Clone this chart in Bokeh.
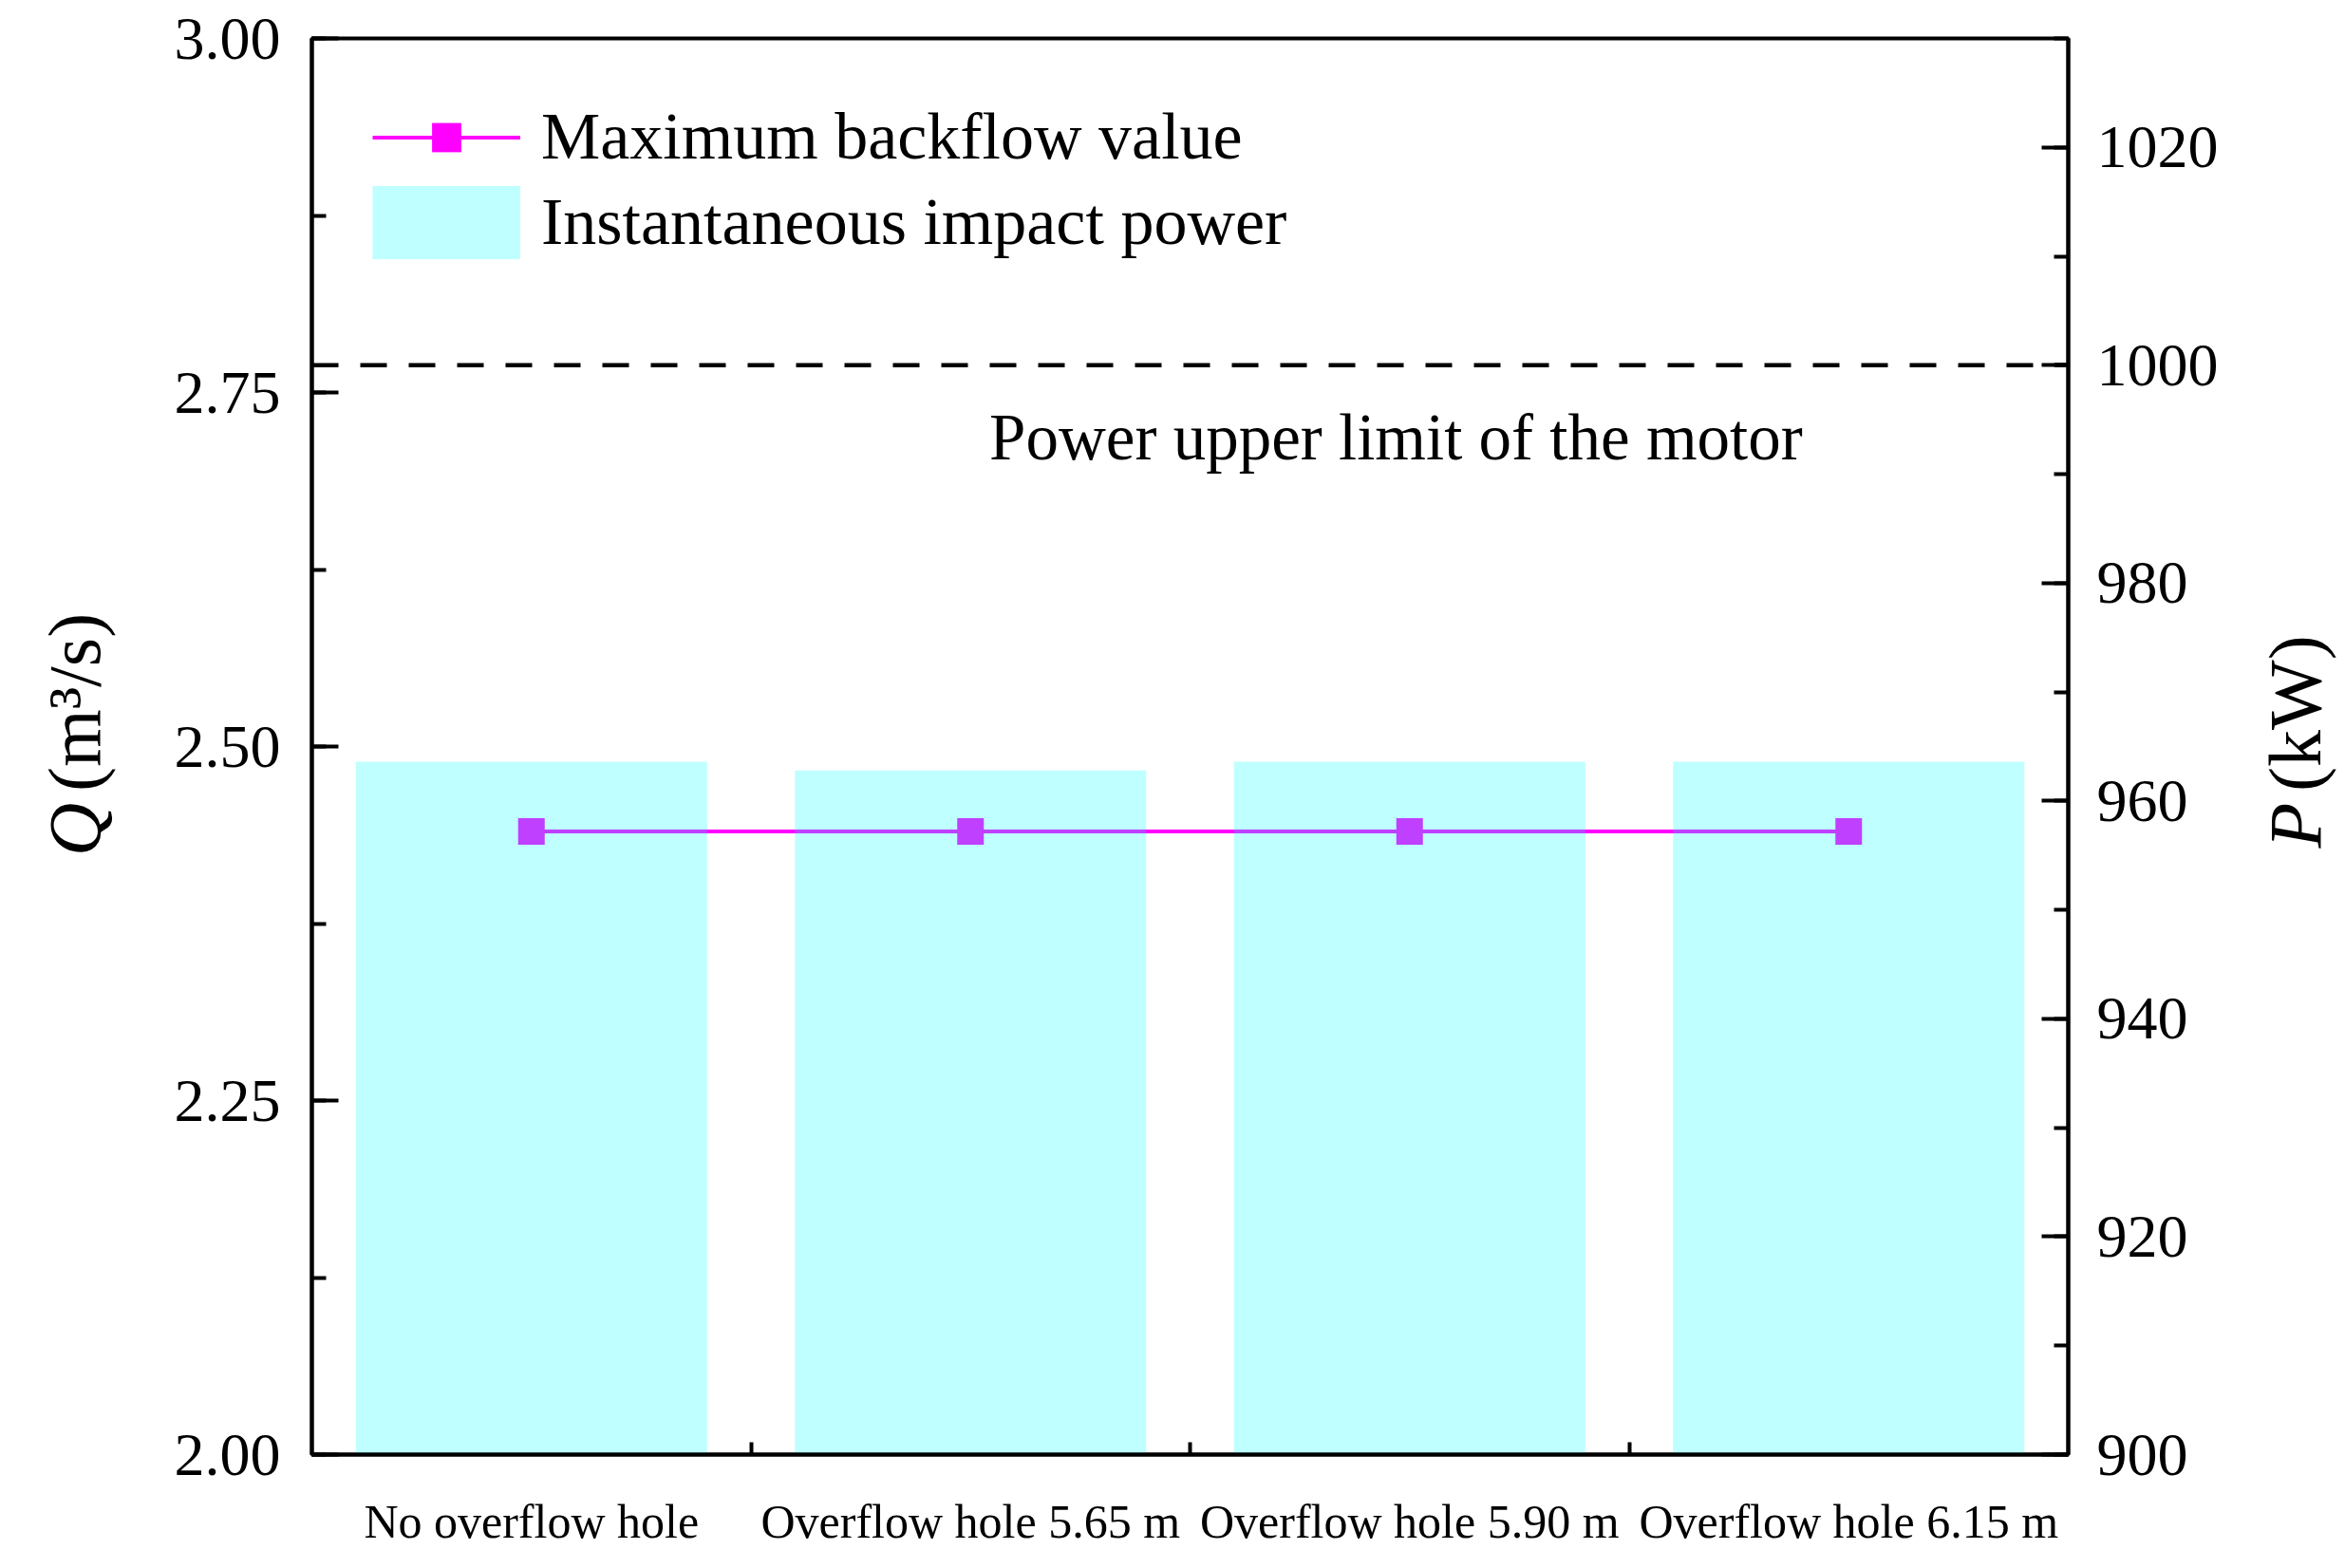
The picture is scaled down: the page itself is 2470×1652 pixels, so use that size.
from bokeh.plotting import figure
from bokeh.layouts import row
from bokeh.models import (Range1d, LinearAxis, SingleIntervalTicker, FixedTicker,
                          NumeralTickFormatter, Span, Label, Legend, LegendItem)
from bokeh.core.properties import value
from bokeh.embed import file_html
from bokeh.resources import INLINE

# ---------------- data ----------------
categories = ["No overflow hole", "Overflow hole 5.65 m", "Overflow hole 5.90 m", "Overflow hole 6.15 m"]
positions = [1, 2, 3, 4]
backflow_q = [2.44, 2.44, 2.44, 2.44]          # m^3/s, left axis
impact_power = [963.6, 962.8, 963.6, 963.6]     # kW, right axis
power_limit = 1000                              # kW
q_ticks_interval = 0.25
p_ticks_interval = 20

FONT = "Liberation Serif"
H = 1636
LW, MW, RW = 170, 2170, 130
SHIFT = 38   # empirical correction of rotated-text placement


def side_fig(width):
    f = figure(width=width, height=H, output_backend="svg", toolbar_location=None,
               x_range=Range1d(0, width), y_range=Range1d(0, H),
               x_axis_location=None, y_axis_location=None,
               min_border=0, min_border_left=0, min_border_right=0,
               min_border_top=0, min_border_bottom=0)
    f.grid.visible = False
    f.outline_line_color = None
    f.background_fill_color = "white"
    f.border_fill_color = "white"
    return f


title_kw = dict(angle=1.5707963, text_font=value(FONT), text_font_size="78px",
                text_baseline="middle", text_color="black")

# left title: Q (m³/s)
lf = side_fig(LW)
lf.text(x=[78], y=[H - 845 - SHIFT], text=["Q"], text_align="right", text_font_style="italic", **title_kw)
lf.text(x=[78], y=[H - 832 - SHIFT], text=["(m³/s)"], text_align="left", **title_kw)

# right title: P (kW)
rf = side_fig(RW)
rf.text(x=[77], y=[H - 845 - SHIFT], text=["P"], text_align="right", text_font_style="italic", **title_kw)
rf.text(x=[77], y=[H - 832 - SHIFT], text=["(kW)"], text_align="left", **title_kw)

# ---------------- main plot ----------------
p = figure(width=MW, height=H, output_backend="svg", toolbar_location=None,
           x_range=Range1d(0.5, 4.5), y_range=Range1d(2.0, 3.0),
           min_border_left=328 - LW, min_border_right=LW + MW - 2178,
           min_border_top=40, min_border_bottom=H - 40 - 1492)
p.extra_y_ranges = {"P": Range1d(900, 1030)}
p.xgrid.visible = False
p.ygrid.visible = False
p.outline_line_color = "black"
p.outline_line_width = 4
p.background_fill_color = "white"
p.border_fill_color = "white"

# line + markers (drawn below the translucent bars)
line_r = p.line(positions, backflow_q, line_color="#FF00FF", line_width=4)
mark_r = p.scatter(positions, backflow_q, marker="square", size=28,
                   fill_color="#FF00FF", line_color=None)

# bars on the right axis
bar_r = p.vbar(x=positions, top=impact_power, bottom=900, width=0.8, y_range_name="P",
               fill_color="#00FFFF", fill_alpha=0.25, line_color=None)

# hidden legend proxy for the bar swatch (thick line gives an exact rectangle)
proxy = p.line(positions, impact_power, y_range_name="P", line_color="#00FFFF",
               line_alpha=0.25, line_width=79, line_cap="butt", visible=False)

# power limit line
span = Span(location=power_limit, dimension="width", y_range_name="P",
            line_color="black", line_width=4.5, line_dash="28 23")
p.add_layout(span)
p.add_layout(Label(x=2.969, y=power_limit, y_range_name="P", y_offset=-76,
                   text="Power upper limit of the motor", text_align="center",
                   text_baseline="middle", text_font=FONT, text_font_size="69px",
                   text_color="black"))

# x axis
xa = p.xaxis[0]
xa.ticker = FixedTicker(ticks=positions, minor_ticks=[1.5, 2.5, 3.5])
xa.major_label_overrides = {pos: c for pos, c in zip(positions, categories)}
xa.major_tick_in = 0
xa.major_tick_out = 0
xa.minor_tick_in = 13
xa.minor_tick_out = 0
xa.minor_tick_line_width = 4
xa.axis_line_width = 4
xa.major_label_standoff = 42
xa.major_label_text_font = FONT
xa.major_label_text_font_size = "50px"
xa.major_label_text_color = "black"

# left y axis
ya = p.yaxis[0]
ya.ticker = SingleIntervalTicker(interval=q_ticks_interval, num_minor_ticks=2)
ya.formatter = NumeralTickFormatter(format="0.00")
ya.major_tick_in = 28
ya.major_tick_out = 0
ya.minor_tick_in = 15
ya.minor_tick_out = 0
ya.major_tick_line_width = 4
ya.minor_tick_line_width = 4
ya.axis_line_width = 4
ya.major_label_standoff = 33
ya.major_label_text_font = FONT
ya.major_label_text_font_size = "64px"
ya.major_label_text_color = "black"

# right y axis
ra = LinearAxis(y_range_name="P",
                ticker=SingleIntervalTicker(interval=p_ticks_interval, num_minor_ticks=2))
ra.major_tick_in = 28
ra.major_tick_out = 0
ra.minor_tick_in = 15
ra.minor_tick_out = 0
ra.major_tick_line_width = 4
ra.minor_tick_line_width = 4
ra.axis_line_width = 4
ra.major_label_standoff = 30
ra.major_label_text_font = FONT
ra.major_label_text_font_size = "64px"
ra.major_label_text_color = "black"
p.add_layout(ra, "right")

# legend
legend = Legend(items=[
    LegendItem(label="Maximum backflow value", renderers=[line_r, mark_r]),
    LegendItem(label="Instantaneous impact power", renderers=[proxy]),
], location="top_left")
legend.margin = 64
legend.padding = 10
legend.border_line_color = None
legend.background_fill_alpha = 0
legend.inactive_fill_alpha = 0
legend.glyph_width = 156
legend.glyph_height = 77
legend.spacing = 10
legend.label_standoff = 22
legend.label_text_font = FONT
legend.label_text_font_size = "70px"
legend.label_text_color = "black"
p.add_layout(legend)

layout = row(lf, p, rf, spacing=0)
open("out.html", "w").write(file_html(layout, INLINE))
